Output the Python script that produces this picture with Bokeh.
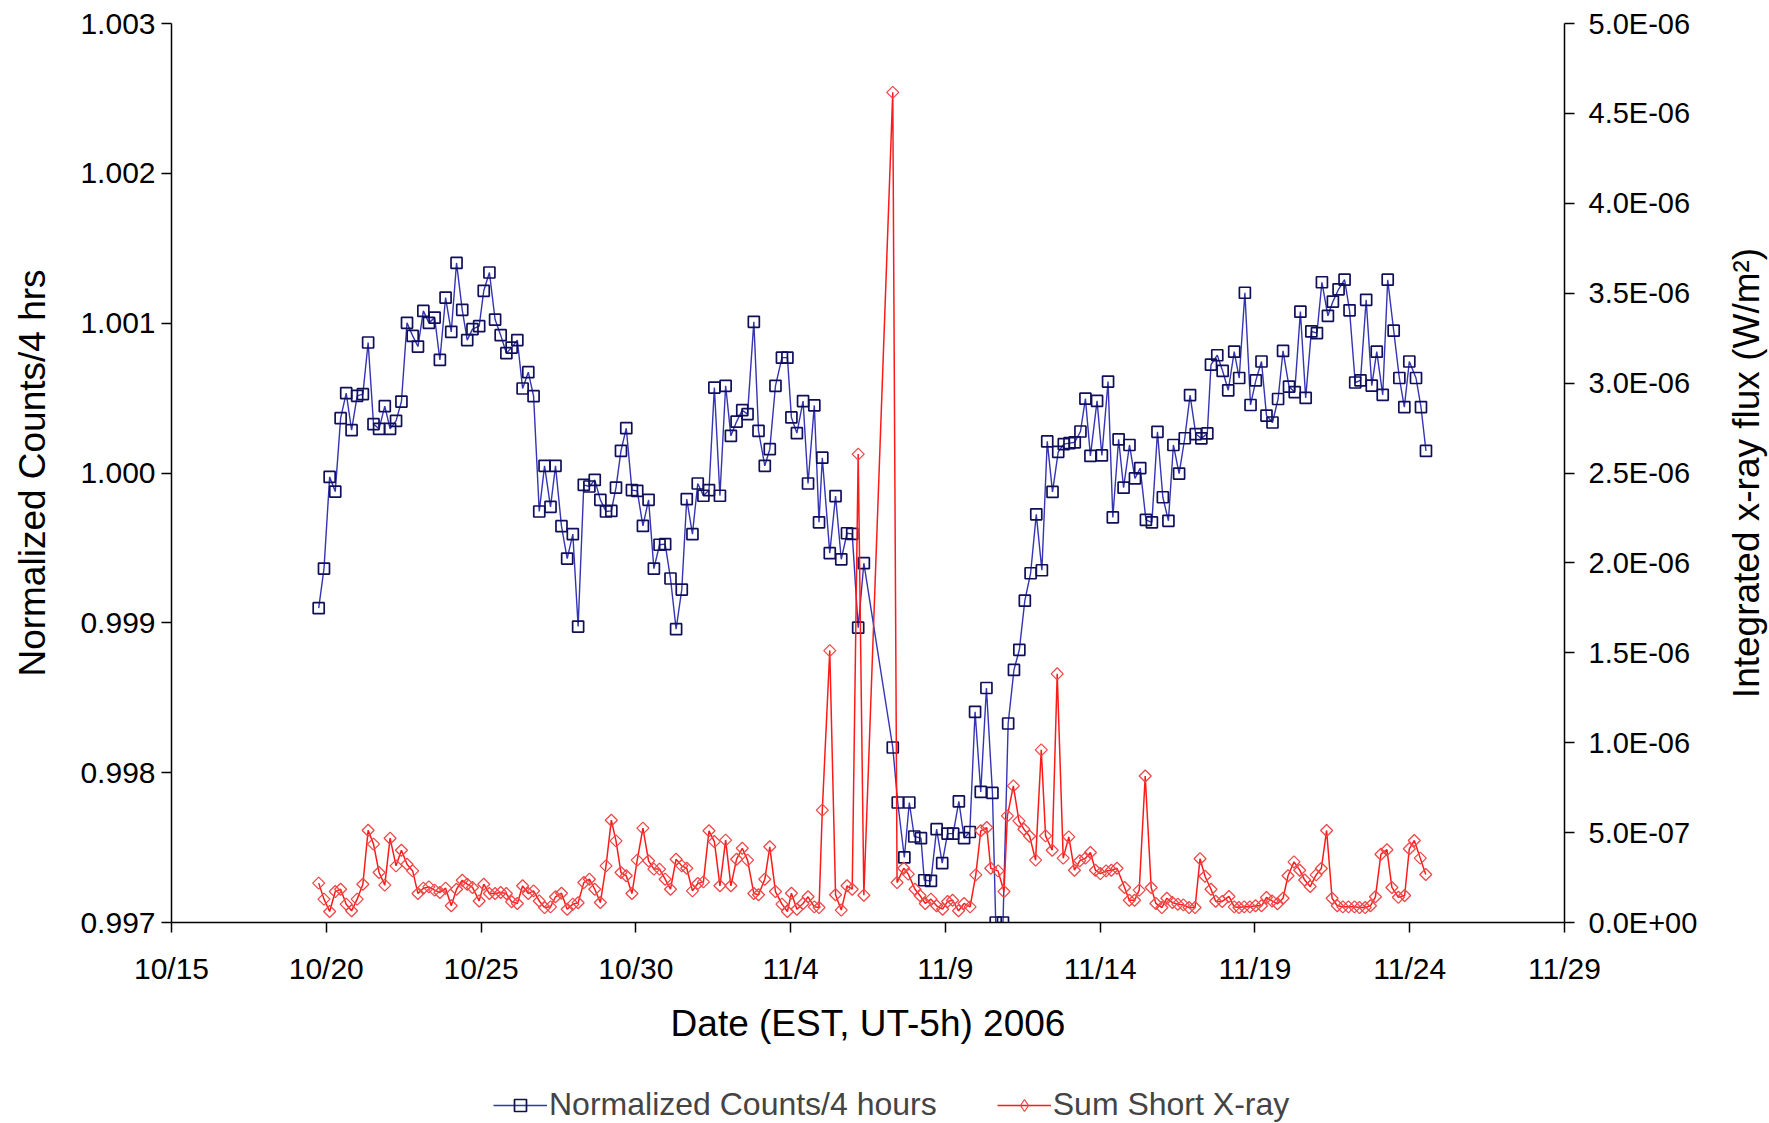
import math
from bokeh.plotting import figure
from bokeh.layouts import column, row
from bokeh.models import (Range1d, LinearAxis, FixedTicker, Legend, LegendItem,
                          ColumnDataSource, Label)
from bokeh.embed import file_html
from bokeh.resources import INLINE

# ---------------- data ----------------
# x positions are days after 15 Oct 2006 (EST)
x_tick_days = [0, 5, 10, 15, 20, 25, 30, 35, 40, 45]
x_tick_labels = ["10/15", "10/20", "10/25", "10/30", "11/4", "11/9",
                 "11/14", "11/19", "11/24", "11/29"]
left_ticks = [0.997, 0.998, 0.999, 1.000, 1.001, 1.002, 1.003]
left_tick_labels = ["0.997", "0.998", "0.999", "1.000", "1.001", "1.002", "1.003"]
right_ticks = [0.0, 0.5, 1.0, 1.5, 2.0, 2.5, 3.0, 3.5, 4.0, 4.5, 5.0]   # units of 1e-6 W/m2
right_tick_labels = ["0.0E+00", "5.0E-07", "1.0E-06", "1.5E-06", "2.0E-06", "2.5E-06",
                     "3.0E-06", "3.5E-06", "4.0E-06", "4.5E-06", "5.0E-06"]

counts_day = [
    4.755, 4.926, 5.109, 5.290, 5.464, 5.644, 5.818, 5.998, 6.182, 6.352,
    6.526, 6.706, 6.890, 7.061, 7.254, 7.428, 7.608, 7.791, 7.962, 8.136,
    8.316, 8.500, 8.670, 8.854, 9.037, 9.208, 9.392, 9.553, 9.723, 9.939,
    10.087, 10.270, 10.454, 10.634, 10.818, 10.988, 11.172, 11.343, 11.526, 11.697,
    11.880, 12.051, 12.244, 12.405, 12.598, 12.782, 12.965, 13.136, 13.319, 13.500,
    13.673, 13.854, 14.037, 14.208, 14.359, 14.520, 14.691, 14.874, 15.045, 15.229,
    15.412, 15.583, 15.766, 15.947, 16.120, 16.301, 16.484, 16.645, 16.829, 17.000,
    17.183, 17.363, 17.537, 17.717, 17.901, 18.071, 18.255, 18.438, 18.609, 18.812,
    18.963, 19.166, 19.327, 19.511, 19.720, 19.897, 20.026, 20.203, 20.402, 20.563,
    20.766, 20.918, 21.024, 21.265, 21.452, 21.636, 21.822, 21.990, 22.183, 22.366,
    23.300, 23.461, 23.674, 23.835, 23.995, 24.211, 24.318, 24.533, 24.717, 24.897,
    25.071, 25.251, 25.435, 25.605, 25.789, 25.959, 26.143, 26.326, 26.520, 26.626,
    26.861, 27.028, 27.215, 27.389, 27.566, 27.753, 27.936, 28.117, 28.290, 28.461,
    28.645, 28.825, 29.009, 29.179, 29.363, 29.524, 29.685, 29.900, 30.055, 30.255,
    30.409, 30.596, 30.757, 30.947, 31.124, 31.294, 31.478, 31.671, 31.851, 32.025,
    32.205, 32.366, 32.550, 32.733, 32.904, 33.088, 33.268, 33.461, 33.580, 33.783,
    33.957, 34.137, 34.331, 34.491, 34.675, 34.858, 35.029, 35.212, 35.373, 35.567,
    35.747, 35.908, 36.101, 36.285, 36.468, 36.639, 36.822, 37.003, 37.164, 37.357,
    37.518, 37.702, 37.895, 38.056, 38.239, 38.410, 38.593, 38.774, 38.935, 39.128,
    39.289, 39.482, 39.665, 39.826, 39.987, 40.203, 40.364, 40.525,
]
counts_norm = [
    0.999098, 0.999362, 0.999974, 0.999876, 1.000366, 1.000533, 1.000286, 1.000515, 1.000526, 1.000871,
    1.000326, 1.000295, 1.000446, 1.000295, 1.000348, 1.000477, 1.001002, 1.000915, 1.000844, 1.001082,
    1.001002, 1.001037, 1.000755, 1.001171, 1.000942, 1.001402, 1.001089, 1.000887, 1.000960, 1.000980,
    1.001216, 1.001338, 1.001024, 1.000920, 1.000800, 1.000837, 1.000887, 1.000564, 1.000673, 1.000513,
    0.999743, 1.000048, 0.999774, 1.000048, 0.999645, 0.999429, 0.999592, 0.998975, 0.999921, 0.999910,
    0.999954, 0.999821, 0.999743, 0.999747, 0.999903, 1.000148, 1.000299, 0.999886, 0.999881, 0.999647,
    0.999821, 0.999362, 0.999521, 0.999525, 0.999296, 0.998958, 0.999222, 0.999826, 0.999592, 0.999930,
    0.999848, 0.999886, 1.000570, 0.999848, 1.000582, 1.000248, 1.000343, 1.000419, 1.000393, 1.001009,
    1.000281, 1.000048, 1.000159, 1.000582, 1.000770, 1.000770, 1.000371, 1.000266, 1.000480, 0.999930,
    1.000451, 0.999671, 1.000102, 0.999465, 0.999846, 0.999424, 0.999598, 0.999594, 0.998968, 0.999398,
    0.998168, 0.997801, 0.997434, 0.997801, 0.997574, 0.997563, 0.997282, 0.997278, 0.997623, 0.997396,
    0.997593, 0.997593, 0.997808, 0.997563, 0.997604, 0.998406, 0.997872, 0.998565, 0.997865, 0.997000,
    0.997000, 0.998328, 0.998686, 0.998820, 0.999148, 0.999331, 0.999724, 0.999351, 1.000211, 0.999874,
    1.000141, 1.000193, 1.000199, 1.000205, 1.000277, 1.000496, 1.000114, 1.000481, 1.000117, 1.000610,
    0.999704, 1.000225, 0.999902, 1.000187, 0.999964, 1.000033, 0.999687, 0.999671, 1.000275, 0.999838,
    0.999681, 1.000187, 0.999996, 1.000232, 1.000520, 1.000260, 1.000231, 1.000264, 1.000723, 1.000786,
    1.000681, 1.000552, 1.000810, 1.000634, 1.001203, 1.000454, 1.000618, 1.000744, 1.000383, 1.000337,
    1.000494, 1.000815, 1.000576, 1.000540, 1.001077, 1.000501, 1.000945, 1.000934, 1.001273, 1.001049,
    1.001144, 1.001226, 1.001290, 1.001086, 1.000604, 1.000618, 1.001156, 1.000583, 1.000810, 1.000522,
    1.001290, 1.000950, 1.000634, 1.000440, 1.000744, 1.000634, 1.000440, 1.000147,
]

xray_day = [
    4.755, 4.926, 5.109, 5.290, 5.464, 5.644, 5.818, 5.998, 6.182, 6.352,
    6.526, 6.706, 6.890, 7.061, 7.254, 7.428, 7.608, 7.791, 7.962, 8.136,
    8.316, 8.500, 8.670, 8.854, 9.037, 9.208, 9.392, 9.553, 9.723, 9.939,
    10.087, 10.270, 10.454, 10.634, 10.818, 10.988, 11.172, 11.343, 11.526, 11.697,
    11.880, 12.051, 12.244, 12.405, 12.598, 12.782, 12.965, 13.136, 13.319, 13.500,
    13.673, 13.854, 14.037, 14.208, 14.359, 14.520, 14.691, 14.874, 15.045, 15.229,
    15.412, 15.583, 15.766, 15.947, 16.120, 16.301, 16.484, 16.645, 16.829, 17.000,
    17.183, 17.363, 17.537, 17.717, 17.901, 18.071, 18.255, 18.438, 18.609, 18.812,
    18.963, 19.166, 19.327, 19.511, 19.720, 19.897, 20.026, 20.203, 20.402, 20.563,
    20.766, 20.918, 21.024, 21.265, 21.452, 21.636, 21.822, 21.990, 22.183, 22.366,
    23.300, 23.439, 23.654, 23.802, 24.018, 24.179, 24.350, 24.533, 24.717, 24.910,
    25.071, 25.232, 25.425, 25.605, 25.798, 25.982, 26.143, 26.336, 26.465, 26.700,
    26.893, 27.003, 27.196, 27.376, 27.537, 27.721, 27.914, 28.097, 28.236, 28.451,
    28.612, 28.806, 28.986, 29.169, 29.340, 29.524, 29.685, 29.846, 30.006, 30.190,
    30.361, 30.544, 30.789, 30.940, 31.111, 31.262, 31.455, 31.648, 31.800, 31.993,
    32.154, 32.334, 32.508, 32.688, 32.872, 33.065, 33.226, 33.387, 33.580, 33.731,
    33.944, 34.160, 34.331, 34.482, 34.652, 34.836, 35.019, 35.212, 35.373, 35.554,
    35.728, 35.908, 36.069, 36.262, 36.446, 36.607, 36.784, 36.977, 37.144, 37.315,
    37.492, 37.659, 37.840, 38.023, 38.216, 38.377, 38.561, 38.731, 38.892, 39.070,
    39.263, 39.424, 39.633, 39.836, 39.987, 40.148, 40.341, 40.518,
]
# integrated short x-ray flux in units of 1e-6 W/m^2
xray_flux = [
    0.219, 0.130, 0.061, 0.172, 0.185, 0.102, 0.065, 0.130, 0.213, 0.513,
    0.436, 0.278, 0.208, 0.469, 0.315, 0.402, 0.324, 0.287, 0.161, 0.191,
    0.198, 0.180, 0.167, 0.191, 0.093, 0.185, 0.235, 0.213, 0.195, 0.120,
    0.213, 0.161, 0.161, 0.167, 0.161, 0.115, 0.106, 0.204, 0.161, 0.176,
    0.120, 0.083, 0.087, 0.143, 0.163, 0.074, 0.102, 0.110, 0.222, 0.241,
    0.185, 0.111, 0.315, 0.569, 0.454, 0.278, 0.260, 0.161, 0.347, 0.525,
    0.343, 0.297, 0.297, 0.241, 0.185, 0.352, 0.315, 0.302, 0.176, 0.217,
    0.226, 0.510, 0.450, 0.204, 0.458, 0.204, 0.352, 0.413, 0.347, 0.161,
    0.154, 0.241, 0.421, 0.172, 0.102, 0.061, 0.163, 0.074, 0.106, 0.143,
    0.087, 0.083, 0.625, 1.512, 0.154, 0.069, 0.204, 0.185, 2.605, 0.152,
    4.617, 0.222, 0.302, 0.269, 0.185, 0.150, 0.106, 0.130, 0.093, 0.074,
    0.117, 0.124, 0.065, 0.106, 0.087, 0.265, 0.510, 0.528, 0.302, 0.287,
    0.172, 0.593, 0.760, 0.565, 0.519, 0.480, 0.347, 0.960, 0.482, 0.402,
    1.383, 0.358, 0.476, 0.291, 0.343, 0.358, 0.389, 0.291, 0.272, 0.287,
    0.291, 0.302, 0.195, 0.124, 0.124, 0.180, 0.815, 0.195, 0.106, 0.083,
    0.135, 0.111, 0.102, 0.098, 0.083, 0.083, 0.355, 0.257, 0.185, 0.118,
    0.117, 0.145, 0.087, 0.083, 0.087, 0.087, 0.093, 0.093, 0.139, 0.120,
    0.104, 0.135, 0.260, 0.337, 0.291, 0.236, 0.200, 0.265, 0.300, 0.512,
    0.135, 0.093, 0.087, 0.087, 0.087, 0.083, 0.083, 0.093, 0.143, 0.380,
    0.405, 0.195, 0.140, 0.150, 0.410, 0.456, 0.358, 0.267,
]

# ---------------- styling ----------------
FONT = "Liberation Sans"
TICK_FS = "30px"
TITLE_FS = "37px"
BLUE_LINE, BLUE_MARK = "#3434b4", "#10105a"
RED_LINE, RED_MARK = "#ff1a1a", "#f04848"

W_MAIN, H_MAIN = 1727, 1063
B_LEFT, B_RIGHT, B_TOP, B_BOTTOM = 171, 163, 23, 141

p = figure(width=W_MAIN, height=H_MAIN, output_backend="svg", toolbar_location=None,
           x_range=Range1d(0, 45), y_range=Range1d(0.997, 1.003),
           min_border_left=B_LEFT, min_border_right=B_RIGHT, min_border_top=B_TOP,
           min_border_bottom=B_BOTTOM, outline_line_color=None,
           background_fill_color="white", border_fill_color="white")
p.extra_y_ranges = {"flux": Range1d(0, 5)}
p.xgrid.visible = False
p.ygrid.visible = False

def style_axis(ax):
    ax.axis_line_color = "black"
    ax.axis_line_width = 1.5
    ax.major_tick_line_color = "black"
    ax.major_tick_line_width = 1.5
    ax.major_tick_in = 0
    ax.major_tick_out = 10
    ax.minor_tick_line_color = None
    ax.major_label_text_font = FONT
    ax.major_label_text_font_size = TICK_FS
    ax.major_label_text_color = "black"
    ax.axis_label_text_font = FONT
    ax.axis_label_text_font_size = TITLE_FS
    ax.axis_label_text_font_style = "normal"
    ax.axis_label_text_color = "black"

xa = p.xaxis[0]
style_axis(xa)
xa.ticker = FixedTicker(ticks=x_tick_days)
xa.major_label_overrides = {d: s for d, s in zip(x_tick_days, x_tick_labels)}
xa.major_label_standoff = 19
xa.axis_label = "Date (EST, UT-5h) 2006"
xa.axis_label_standoff = 15

ya = p.yaxis[0]
style_axis(ya)
ya.ticker = FixedTicker(ticks=left_ticks)
ya.major_label_overrides = {t: s for t, s in zip(left_ticks, left_tick_labels)}
ya.major_label_standoff = 6
ya.axis_label = "Normalized Counts/4 hrs"
ya.axis_label_standoff = 24

ra = LinearAxis(y_range_name="flux")
style_axis(ra)
ra.major_label_text_font_size = "29px"
ra.ticker = FixedTicker(ticks=right_ticks)
ra.major_label_overrides = {t: s for t, s in zip(right_ticks, right_tick_labels)}
ra.major_label_standoff = 14
p.add_layout(ra, "right")

src_c = ColumnDataSource(dict(x=counts_day, y=counts_norm))
src_x = ColumnDataSource(dict(x=xray_day, y=xray_flux))

p.line("x", "y", source=src_c, line_color=BLUE_LINE, line_width=1.4)
p.scatter("x", "y", source=src_c, marker="square", size=11, fill_color=None,
          line_color=BLUE_MARK, line_width=1.7)
p.line("x", "y", source=src_x, y_range_name="flux", line_color=RED_LINE, line_width=1.5)
p.scatter("x", "y", source=src_x, y_range_name="flux", marker="square", angle=math.pi / 4,
          size=8.5, fill_color=None, line_color=RED_MARK, line_width=1.3)

# ---------------- right-hand axis title strip ----------------
rt = figure(width=1769 - W_MAIN, height=H_MAIN, output_backend="svg", toolbar_location=None,
            x_range=Range1d(0, 1769 - W_MAIN), y_range=Range1d(0.997, 1.003),
            x_axis_location=None, y_axis_location=None,
            min_border_left=0, min_border_right=0, min_border_top=B_TOP,
            min_border_bottom=B_BOTTOM, outline_line_color=None,
            background_fill_color="white", border_fill_color="white")
rt.xgrid.visible = False
rt.ygrid.visible = False
rt.add_layout(Label(x=19, y=1.0, text="Integrated x-ray flux (W/m\u00b2)",
                    angle=math.pi / 2, text_align="center", text_baseline="middle",
                    text_font=FONT, text_font_size=TITLE_FS, text_color="black"))

# ---------------- legend strip ----------------
lg = figure(width=1769, height=1123 - H_MAIN, output_backend="svg", toolbar_location=None,
            x_range=Range1d(0, 45), y_range=Range1d(0, 1),
            x_axis_location=None, y_axis_location=None,
            min_border_left=B_LEFT, min_border_right=1769 - 1564, min_border_top=0,
            min_border_bottom=0, outline_line_color=None,
            background_fill_color="white", border_fill_color="white")
lg.xgrid.visible = False
lg.ygrid.visible = False
dummy = dict(x=[-5.0], y=[-5.0])
lb = lg.line("x", "y", source=ColumnDataSource(dummy), line_color=BLUE_LINE, line_width=1.4)
lbm = lg.scatter("x", "y", source=ColumnDataSource(dummy), marker="square", size=11,
                 fill_color=None, line_color=BLUE_MARK, line_width=1.7)
lr = lg.line("x", "y", source=ColumnDataSource(dummy), line_color=RED_LINE, line_width=1.5)
lrm = lg.scatter("x", "y", source=ColumnDataSource(dummy), marker="diamond", size=13,
                 fill_color=None, line_color=RED_MARK, line_width=1.3)
legend = Legend(items=[LegendItem(label="Normalized Counts/4 hours", renderers=[lb, lbm]),
                       LegendItem(label="Sum Short X-ray", renderers=[lr, lrm])],
                orientation="horizontal", location=(493 - B_LEFT, 0),
                border_line_color=None, background_fill_alpha=0,
                label_text_font=FONT, label_text_font_size="32px",
                glyph_width=54, glyph_height=30, spacing=60, label_standoff=2,
                padding=0, margin=0)
lg.add_layout(legend, "center")

page = column(row(p, rt, spacing=0), lg, spacing=0)
open("out.html", "w").write(file_html(page, INLINE))
